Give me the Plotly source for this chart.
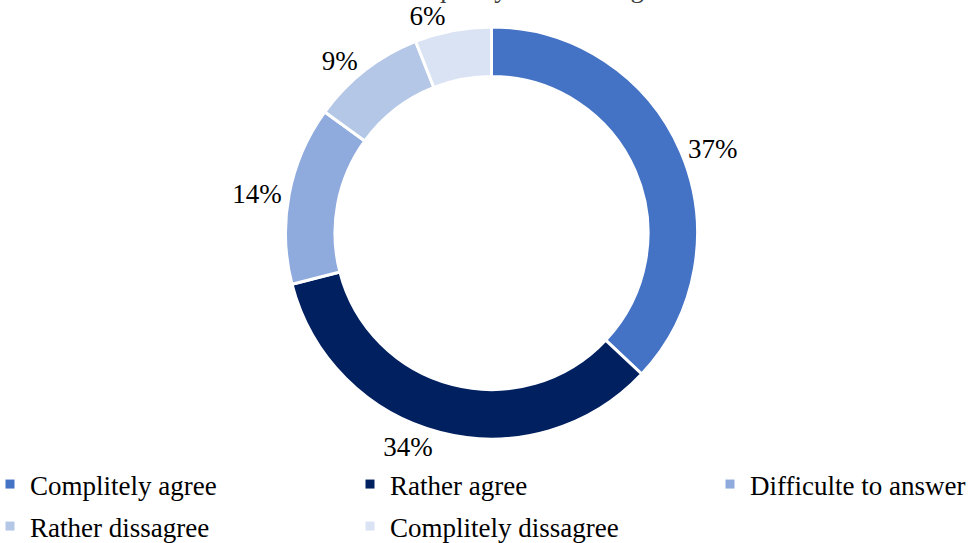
import plotly.graph_objects as go

# Survey answers and their shares (%)
categories = ["Complitely agree", "Rather agree", "Difficulte to answer",
              "Rather dissagree", "Complitely dissagree"]
shares = [37, 34, 14, 9, 6]
colors = ["#4472C4", "#002060", "#8FAADC", "#B4C7E7", "#DAE3F3"]

title_text = "Evaluation of the quality of receiving services"
font_family = "Liberation Serif, Times New Roman, serif"

W, H = 977, 543

fig = go.Figure()

fig.add_trace(
    go.Pie(
        labels=categories,
        values=shares,
        hole=0.76,
        sort=False,
        direction="clockwise",
        rotation=0,
        marker=dict(colors=colors, line=dict(color="white", width=3)),
        texttemplate="%{value}%",
        textposition="outside",
        textfont=dict(family=font_family, size=27, color="#000000"),
        domain=dict(x=[285.5 / W, 697.5 / W], y=[(H - 439) / H, (H - 27) / H]),
        showlegend=False,
    )
)

# Legend keys: one entry per answer, laid out on a 3-column grid
legend_layouts = {}
for i, (name, col) in enumerate(zip(categories, colors)):
    key = "legend" if i == 0 else f"legend{i + 1}"
    fig.add_trace(
        go.Scatter(
            x=[None], y=[None],
            mode="markers",
            name=name,
            marker=dict(symbol="square", size=9, color=col),
            legend=key,
            showlegend=True,
            hoverinfo="skip",
        )
    )
    column, row = i % 3, i // 3
    legend_layouts[key] = dict(
        xref="paper", yref="paper",
        x=(-10 + column * 360) / W, xanchor="left",
        y=(H - (460 + row * 42)) / H, yanchor="top",
        font=dict(family=font_family, size=27, color="#000000"),
        bgcolor="rgba(0,0,0,0)",
        itemclick=False,
        itemdoubleclick=False,
    )

# Chart title sits at the very top edge of the page
fig.add_annotation(
    text=title_text,
    xref="paper", yref="paper",
    x=0.5, y=1,
    xanchor="center", yanchor="bottom",
    yshift=-5,
    showarrow=False,
    font=dict(family=font_family, size=27, color="#404040"),
)

fig.update_layout(
    width=W,
    height=H,
    margin=dict(l=0, r=0, t=0, b=0, autoexpand=False),
    paper_bgcolor="white",
    plot_bgcolor="white",
    font=dict(family=font_family, size=27, color="#000000"),
    xaxis=dict(visible=False),
    yaxis=dict(visible=False),
    **legend_layouts,
)

fig.write_html("out.html")
